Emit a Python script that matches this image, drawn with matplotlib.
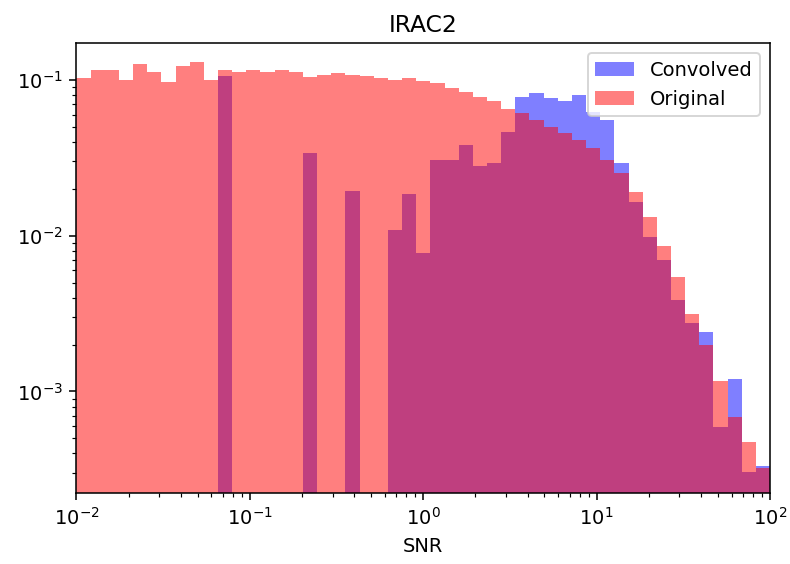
import numpy as np
import matplotlib.pyplot as plt

# 49 log-spaced bins between 1e-2 and 1e2
bin_edges = np.logspace(-2, 2, 50)

# normalised counts per bin
original = [0.1025, 0.1159, 0.1159, 0.0993, 0.1276, 0.1125, 0.0966, 0.1230, 0.1311, 0.0993,
            0.1159, 0.1120, 0.1159, 0.1120, 0.1159, 0.1120, 0.1045, 0.1077, 0.1114, 0.1077,
            0.1061, 0.1025, 0.1000, 0.1025, 0.0990, 0.0952, 0.0885, 0.0841, 0.0781, 0.0733,
            0.0648, 0.0611, 0.0554, 0.0502, 0.0455, 0.0412, 0.0364, 0.0307, 0.0252, 0.0192,
            0.0132, 0.00854, 0.00542, 0.00313, 0.00198, 0.00116, 0.00069, 0.000477, 0.000323]

convolved = [0, 0, 0, 0, 0, 0, 0, 0, 0, 0,
             0.1061, 0, 0, 0, 0, 0, 0.0338, 0, 0, 0.0195,
             0, 0, 0.0109, 0.0185, 0.00772, 0.0307, 0.0307, 0.0383, 0.0281, 0.0292,
             0.0466, 0.0774, 0.0829, 0.0763, 0.0737, 0.0801, 0.0623, 0.0554, 0.0292, 0.0165,
             0.00982, 0.00694, 0.00387, 0.00277, 0.00242, 0.000595, 0.00120, 0.000306, 0.000331]

centers = np.sqrt(bin_edges[:-1] * bin_edges[1:])

dpi = 140
fig, ax = plt.subplots(figsize=(790 / dpi, 564 / dpi), dpi=dpi)
ax.hist(centers, bins=bin_edges, weights=convolved, color='blue', alpha=0.5, label='Convolved')
ax.hist(centers, bins=bin_edges, weights=original, color='red', alpha=0.5, label='Original')

ax.set_xscale('log')
ax.set_yscale('log')
ax.set_xlim(1e-2, 1e2)
ax.set_ylim(2.22e-4, 0.172)
ax.set_xlabel('SNR')
ax.set_title('IRAC2')
ax.legend(loc='upper right')

fig.subplots_adjust(left=0.0968, right=0.9748, bottom=0.1254, top=0.9232)
fig.savefig('out.png', dpi=dpi)
